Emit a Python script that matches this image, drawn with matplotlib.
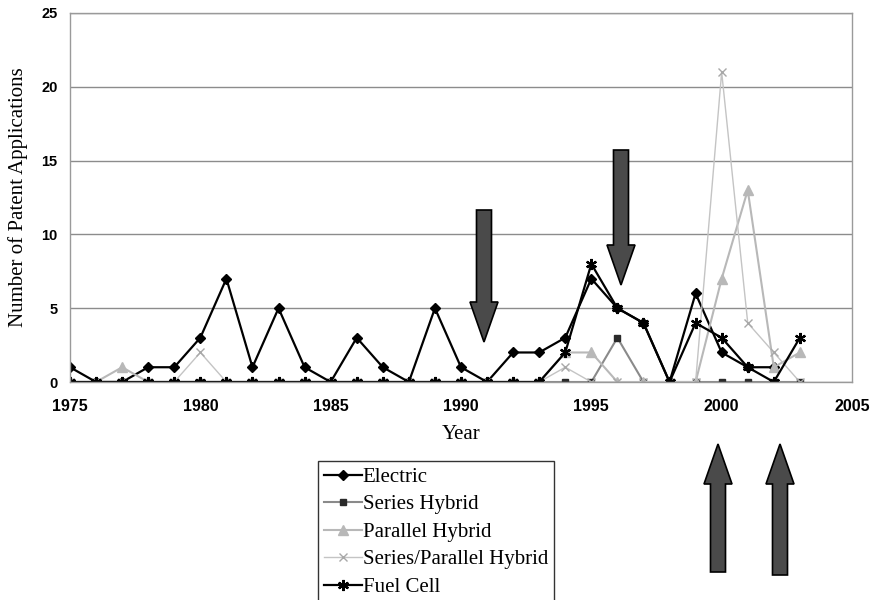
import numpy as np
import matplotlib
matplotlib.use("Agg")
import matplotlib.pyplot as plt
from matplotlib.patches import FancyArrow

YEARS = list(range(1975, 2004))

ELECTRIC = [1, 0, 0, 1, 1, 3, 7, 1, 5, 1, 0, 3, 1, 0, 5, 1, 0, 2, 2, 3,
            7, 5, 4, 0, 6, 2, 1, 1, np.nan]
SERIES_HYBRID = [0, 0, 0, 0, 0, 0, 0, 0, 0, 0, 0, 0, 0, 0, 0, 0, 0, 0, 0, 0,
                 0, 3, 0, 0, 0, 0, 0, 0, 0]
PARALLEL_HYBRID = [0, 0, 1, 0, 0, 0, 0, 0, 0, 0, 0, 0, 0, 0, 0, 0, 0, 0, 0, 2,
                   2, 0, 0, 0, 0, 7, 13, 1, 2]
SERIES_PARALLEL = [0, 0, 0, 0, 0, 2, 0, 0, 0, 0, 0, 0, 0, 0, 0, 0, 0, 0, 0, 1,
                   0, 0, 0, 0, 0, 21, 4, 2, 0]
FUEL_CELL = [0, 0, 0, 0, 0, 0, 0, 0, 0, 0, 0, 0, 0, 0, 0, 0, 0, 0, 0, 2,
             8, 5, 4, 0, 4, 3, 1, 0, 3]

LABELS = ["Electric", "Series Hybrid", "Parallel Hybrid",
          "Series/Parallel Hybrid", "Fuel Cell"]

W, H = 878, 600
fig = plt.figure(figsize=(W / 100, H / 100), dpi=100)
ax = fig.add_axes([70 / W, 1 - 382 / H, 782 / W, 369 / H])

ax.plot(YEARS, ELECTRIC, color="black", lw=1.6, marker="D", ms=5.5,
        mfc="black", mec="black", label=LABELS[0])
ax.plot(YEARS, SERIES_HYBRID, color="#8a8a8a", lw=1.5, marker="s", ms=5,
        mfc="#2a2a2a", mec="#2a2a2a", label=LABELS[1])
ax.plot(YEARS, PARALLEL_HYBRID, color="#b8b8b8", lw=1.5, marker="^", ms=6.5,
        mfc="#b8b8b8", mec="#b8b8b8", label=LABELS[2])
ax.plot(YEARS, SERIES_PARALLEL, color="#c4c4c4", lw=1.0, marker="x", ms=6,
        mfc="none", mec="#a8a8a8", mew=1.0, label=LABELS[3])
ax.plot(YEARS, FUEL_CELL, color="black", lw=1.6, marker=(6, 2, 0), ms=8,
        mec="black", mew=1.6, label=LABELS[4])

ax.set_xlim(1975, 2005)
ax.set_ylim(0, 25)
ax.set_xticks(range(1975, 2006, 5))
ax.set_yticks(range(0, 26, 5))
ax.yaxis.grid(True, color="#8c8c8c", lw=1.0)
ax.set_axisbelow(True)
for s in ax.spines.values():
    s.set_color("#9a9a9a")
    s.set_linewidth(1.0)
ax.tick_params(length=0)
ax.tick_params(axis="x", pad=12)
ax.tick_params(axis="y", pad=9)
for t in ax.get_xticklabels():
    t.set_fontfamily("Liberation Sans")
    t.set_fontweight("bold")
    t.set_fontsize(11.5)
for t in ax.get_yticklabels():
    t.set_fontfamily("Liberation Sans")
    t.set_fontweight("bold")
    t.set_fontsize(10.5)

ax.set_xlabel("Year", fontfamily="Liberation Serif", fontsize=15)
ax.set_ylabel("Number of Patent Applications", fontfamily="Liberation Serif",
              fontsize=15)
ax.xaxis.set_label_coords(0.5, -(425 - 382) / 369)
ax.yaxis.set_label_coords(-(70 - 18) / 782, 0.5)
ax.yaxis.label.set_va("center")

# arrows pointing at the chart
def arrow(x, y0, y1):
    fx = x / W
    fy0 = 1 - y0 / H
    fy1 = 1 - y1 / H
    a = FancyArrow(fx, fy0, 0, fy1 - fy0, width=15 / W, head_width=28 / W,
                   head_length=40 / H, length_includes_head=True,
                   transform=fig.transFigure, facecolor="#4a4a4a",
                   edgecolor="black", lw=1.2, zorder=10)
    fig.patches.append(a)

arrow(484, 210, 342)
arrow(621, 150, 285)
arrow(718, 572, 444)
arrow(780, 575, 444)

leg = fig.legend(loc="upper left", bbox_to_anchor=(318 / W, 1 - 461 / H),
                 prop={"family": "Liberation Serif", "size": 15},
                 frameon=True, fancybox=False, shadow=False,
                 handlelength=1.8, handletextpad=0.05, labelspacing=0.38,
                 borderpad=0.3, borderaxespad=0)
leg.get_frame().set_edgecolor("black")
leg.get_frame().set_linewidth(1.0)

fig.savefig("out.png", dpi=100, facecolor="white")
